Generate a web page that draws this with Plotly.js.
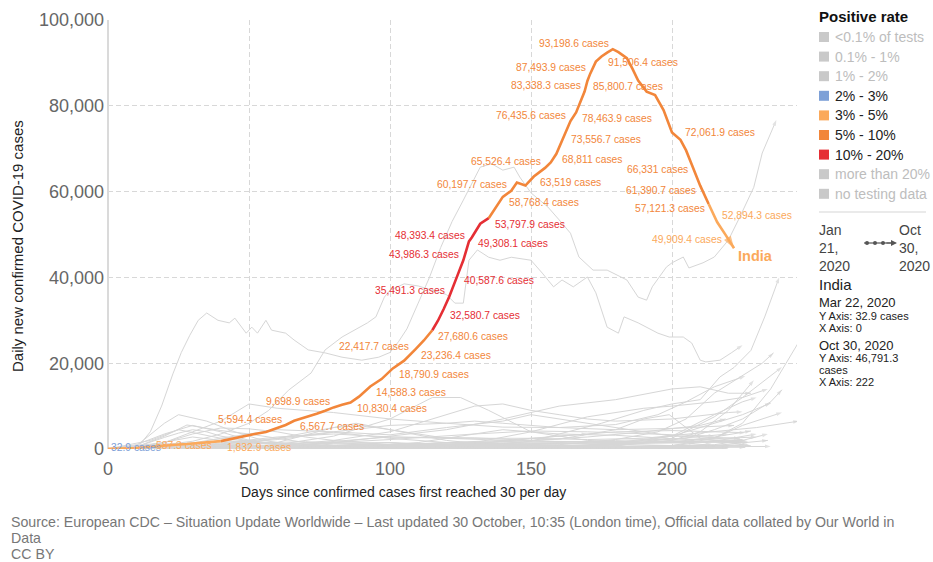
<!DOCTYPE html>
<html><head><meta charset="utf-8">
<script src="https://cdn.plot.ly/plotly-3.0.1.min.js"></script>
<style>body{margin:0;background:#fff}#chart{width:933px;height:562px}</style>
</head><body><div id="chart"></div>
<script>
// ---------------- India (highlighted series) ----------------
const indiaDays  = [0,3,6,10,13,16,20,24,28,32,36,40,44,48,52,56,60,63,66,70,74,77,80,83,86,89,93,97,101,105,108,109,112,115,117,119,121,124,126,128,129,132,135,137,140,143,145,148,151,155,157,159,162,164,166,169,170,171,173,175,177,179,181,184,186,188,191,194,197,200,203,205,207,210,213,216,219,222];
const indiaCases = [32.9,70,110,230,400,587.3,850,1000,1150,1400,1600,1832.9,2400,3100,3500,3950,4900,5594.4,6567.7,7300,8200,8900,9698.9,10300,10830.4,12200,14588.3,16300,18790.9,20600,22417.7,23236.4,25300,27680.6,29900,32580.7,35491.3,40587.6,43986.3,48393.4,49308.1,52500,53797.9,55900,58768.4,60197.7,62100,61400,63519,65526.4,66800,68811,73556.7,76435.6,78463.9,83338.3,85800.7,87493.9,90300,91506.4,92400,93198.6,92500,91100,88600,85900,83300,82500,79000,73800,72061.9,69600,66331,61390.7,57121.3,52894.3,49909.4,46791.3];
// positive-rate band of each India point
const indiaRate  = ['2-3','3-5','3-5','3-5','3-5','3-5','3-5','3-5','3-5','3-5','3-5','3-5','5-10','5-10','5-10','5-10','5-10','5-10','5-10','5-10','5-10','5-10','5-10','5-10','5-10','5-10','5-10','5-10','5-10','5-10','5-10','5-10','5-10','5-10','10-20','10-20','10-20','10-20','10-20','10-20','10-20','10-20','10-20','5-10','5-10','5-10','5-10','5-10','5-10','5-10','5-10','5-10','5-10','5-10','5-10','5-10','5-10','5-10','5-10','5-10','5-10','5-10','5-10','5-10','5-10','5-10','5-10','5-10','5-10','5-10','5-10','5-10','5-10','5-10','5-10','3-5','3-5','3-5'];
// labelled India points
const labelDays  = [0,16,40,63,66,80,86,93,101,108,109,115,119,121,124,126,128,129,135,140,143,151,155,159,162,164,166,169,170,171,175,179,203,207,210,213,216,219];
const labelCases = [32.9,587.3,1832.9,5594.4,6567.7,9698.9,10830.4,14588.3,18790.9,22417.7,23236.4,27680.6,32580.7,35491.3,40587.6,43986.3,48393.4,49308.1,53797.9,58768.4,60197.7,63519,65526.4,68811,73556.7,76435.6,78463.9,83338.3,85800.7,87493.9,91506.4,93198.6,72061.9,66331,61390.7,57121.3,52894.3,49909.4];
// label placement (style): tl = above-left, br = below-right, r = right, tr = above-right, bl = below-left
const labelPlace = ['r','r','br','tl','br','tl','br','br','br','tl','br','br','br','tl','br','tl','tl','br','br','br','tl','br','tl','br','br','tl','br','tl','br','tl','br','tl','tr','bl','bl','bl','tr','bl'];

// ---------------- other countries (grey) ----------------
const usaDays = [0,5,8,11,15,19,23,26,29,32,35,39,43,45,49,51,53,56,58,63,66,71,77,83,90,96,100,103,106,110,114,118,122,126,129,132,136,140,144,146,150,156,160,164,167,172,177,179,184,188,191,193,198,200,204,206,211,215,220,224,229,232,237];
const usaCases = [30,100,300,800,4000,10000,17500,22500,26500,30000,31700,30000,29400,30500,27000,28400,27000,30000,27700,27000,25400,23100,22400,21400,20700,21400,22500,25000,28000,34000,40000,47000,53000,58000,62000,65700,66500,65000,65700,63400,59700,56400,53400,50300,44750,41700,41700,41000,39400,35400,34700,37800,42400,43400,44750,42200,43400,44750,48700,54000,61000,69000,76700];
const brazilDays = [0,10,20,30,40,50,57,64,72,77,83,92,95,98,100,105,110,115,120,123,126,128,131,135,139,143,150,154,158,161,165,170,173,175,177,181,183,188,195,199,204,207,210,212,217,221,225];
const brazilCases = [30,300,1000,1800,3500,6000,9000,13700,17700,23100,26100,29400,30800,35400,37000,38500,38000,37000,36000,34000,34000,44000,46400,44700,44000,44700,44000,41000,37800,39400,37800,40100,36400,32400,28400,27000,30800,29400,27000,26100,26100,24700,20700,20300,20700,22400,24200];
const franceDays = [0,10,20,25,30,35,40,50,60,70,90,110,130,150,160,175,190,200,210,217,222,228,233,238];
const franceCases = [30,500,2700,3700,4500,4000,3000,1900,1000,400,300,400,800,1800,3500,6000,9000,10500,11500,16800,19000,23000,31000,40000];
const italyDays = [0,10,20,28,40,50,60,70,80,100,120,140,160,180,200,215,225,235,245,249];
const italyCases = [30,500,3000,5600,4300,3500,2500,1500,900,300,250,250,350,1200,1500,2500,6000,14000,25000,28000];
const spainDays = [0,10,20,25,35,45,55,70,90,110,130,150,170,190,200,215,225,235,239];
const spainCases = [30,700,6000,8000,6500,4000,2000,600,300,400,1500,4000,7500,9500,10000,11000,12000,17000,19100];
const ukDays = [0,10,20,30,40,50,60,70,80,100,120,140,160,180,195,205,215,225,232,236];
const ukCases = [30,300,1500,3500,4900,4700,4000,2800,2000,1000,600,700,1000,2200,4000,7000,13000,17000,20000,22400];
const germanyDays = [0,10,20,30,40,50,60,70,90,110,130,150,170,190,205,215,225,235,239];
const germanyCases = [30,1000,3500,5500,4000,2000,1200,800,450,400,600,1200,1400,1900,2500,4500,7000,11000,13800];
const russiaDays = [0,20,30,40,50,60,80,100,120,140,160,180,195,205,215,226];
const russiaCases = [30,1500,4000,6500,10500,9500,8500,7000,6000,5100,5000,5700,8000,11000,14500,17000];
const argentinaDays = [0,30,60,80,100,120,140,160,180,200,210,220,228];
const argentinaCases = [30,100,600,1500,3000,4500,7000,10000,11500,14000,14500,13000,13000];
const colombiaDays = [0,40,60,80,100,120,130,140,150,160,170,180,200,220,225];
const colombiaCases = [30,300,800,2000,4000,8000,10000,10500,9000,8000,7000,6500,7000,8500,8700];
const mexicoDays = [0,20,40,60,80,100,120,130,140,160,180,200,222];
const mexicoCases = [30,300,1200,2500,4000,5500,6000,6500,6000,5000,4500,4800,5500];
const peruDays = [0,20,40,60,80,100,120,140,150,160,180,200,224];
const peruCases = [30,300,2500,4500,4000,3300,5000,6500,8000,7000,5000,3000,2500];
const southAfricaDays = [0,40,60,80,100,115,125,135,150,170,190,210,227];
const southAfricaCases = [30,200,1000,3000,7000,12000,12000,9000,4000,2000,1500,1700,1800];
const chileDays = [0,40,60,80,90,100,120,150,180,227];
const chileCases = [30,500,2500,5000,5500,4500,2500,1800,1700,1500];
const iranDays = [0,15,30,40,60,75,100,120,150,170,190,210,230,245];
const iranCases = [30,1000,2800,2000,1200,1500,2800,2500,2500,2200,2500,3800,5000,6500];
const belgiumDays = [0,20,30,40,60,80,120,140,160,180,200,215,225,234];
const belgiumCases = [30,1200,1400,1000,400,100,300,600,400,700,2500,7500,12000,14000];
const netherlandsDays = [0,20,30,40,60,80,120,140,160,180,200,215,225,235];
const netherlandsCases = [30,900,1100,900,300,150,100,500,500,1100,3000,6000,8000,10700];
const polandDays = [0,30,60,90,120,150,180,200,210,220,229];
const polandCases = [30,350,350,350,500,600,800,2000,4000,9000,16000];
const czechiaDays = [0,20,40,100,130,160,180,200,215,225,230];
const czechiaCases = [30,250,100,100,200,400,1500,3000,8000,11000,12000];
const ukraineDays = [0,30,60,90,120,150,170,190,210,219];
const ukraineCases = [30,400,500,800,1000,2000,2800,4000,5500,7000];
const pakistanDays = [0,40,60,80,88,100,120,140,160,190,227];
const pakistanCases = [30,600,1500,5000,6000,4500,2000,700,500,600,900];
const bangladeshDays = [0,30,60,80,100,130,160,190,208];
const bangladeshCases = [30,700,2800,3500,2800,2600,1700,1400,1400];
const indonesiaDays = [0,40,80,100,120,140,160,180,200,226];
const indonesiaCases = [30,350,800,1000,1500,2000,3000,4000,4300,3800];
const philippinesDays = [0,40,80,110,130,140,160,180,200,226];
const philippinesCases = [30,200,400,1500,3500,4500,3500,3200,2400,1900];
const canadaDays = [0,25,40,60,80,100,130,160,180,200,215,230];
const canadaCases = [30,1200,1700,1100,400,300,400,500,1100,2000,2400,2800];
const turkeyDays = [0,15,25,40,60,80,100,130,150,170,190,210,225];
const turkeyCases = [30,2000,4500,2500,1100,1200,1000,1200,1600,1700,1600,1800,2200];
const saudiDays = [0,40,60,80,100,120,150,180,226];
const saudiCases = [30,1100,2200,3900,2500,1500,600,400,400];
const iraqDays = [0,60,80,100,130,150,170,190,215];
const iraqCases = [30,100,1500,2200,3500,4200,4000,3500,3000];
const israelDays = [0,20,40,70,100,120,140,160,180,190,199,210,228];
const israelCases = [30,500,200,50,700,1500,1700,2300,4500,7000,8000,2500,700];
const swedenDays = [0,20,40,60,80,100,120,140,160,180,200,215,234];
const swedenCases = [30,400,600,650,700,1000,700,250,200,200,500,800,2000];
const portugalDays = [0,20,40,60,80,100,120,140,160,180,200,215,230];
const portugalCases = [30,700,500,250,300,350,300,200,200,600,800,1800,3500];
const switzerlandDays = [0,15,25,40,60,80,100,120,140,160,180,200,215,225,239];
const switzerlandCases = [30,600,1100,400,50,20,80,120,180,250,400,800,2500,5500,8500];
const austriaDays = [0,15,25,40,60,100,140,160,180,200,215,225,234];
const austriaCases = [30,500,700,200,50,60,100,250,400,800,1000,2000,3500];
const romaniaDays = [0,30,60,90,120,140,160,180,200,215,228];
const romaniaCases = [30,300,250,300,900,1200,1300,1300,1600,2800,4200];
const ecuadorDays = [0,20,40,60,80,100,120,140,160,180,200,226];
const ecuadorCases = [30,300,500,700,400,300,1200,700,900,1100,800,900];
const boliviaDays = [0,40,60,80,100,120,130,150,170,190,210];
const boliviaCases = [30,100,300,800,1100,1500,1500,1000,600,300,200];
const egyptDays = [0,40,60,80,100,120,140,160,190,215];
const egyptCases = [30,300,600,1400,1500,800,200,150,120,150];
const moroccoDays = [0,40,80,100,120,140,160,180,200,220];
const moroccoCases = [30,100,100,300,700,1300,1500,2000,2300,3500];
const kazakhstanDays = [0,40,60,80,100,120,140,160,190,220];
const kazakhstanCases = [30,200,250,800,1500,800,100,50,60,150];
const japanDays = [0,20,35,50,70,100,120,140,160,180,200,235];
const japanCases = [30,200,600,200,30,60,300,1200,800,500,500,600];
const nepalDays = [0,40,60,80,100,120,140,160,170];
const nepalCases = [30,300,200,400,700,1000,1800,3000,3500];
const dominicanDays = [0,40,70,100,120,140,160,190,220];
const dominicanCases = [30,200,300,400,900,1100,800,400,400];
const panamaDays = [0,40,70,100,120,140,160,190,220];
const panamaCases = [30,100,200,700,1000,1000,800,600,650];
const belarusDays = [0,20,40,60,80,100,130,160,190,215];
const belarusCases = [30,600,900,700,500,200,150,150,300,800];
const kuwaitDays = [0,40,60,80,100,130,160,190,215];
const kuwaitCases = [30,500,800,700,600,600,600,650,600];
const qatarDays = [0,30,50,70,90,120,150,180,220];
const qatarCases = [30,500,1400,1700,1200,400,250,220,230];
const greeceDays = [0,60,120,150,170,190,200,214];
const greeceCases = [30,10,30,200,250,300,500,1200];

// ---------------- legend / text ----------------
const legendTitle = 'Positive rate';
const legendLabels = ['<0.1% of tests','0.1% - 1%','1% - 2%','2% - 3%','3% - 5%','5% - 10%','10% - 20%','more than 20%','no testing data'];
const legendKeys = [null,null,null,'2-3','3-5','5-10','10-20',null,null];
const xTickVals = [0,50,100,150,200];
const yTickVals = [0,20000,40000,60000,80000,100000];
const footerLines = ['Source: European CDC – Situation Update Worldwide – Last updated 30 October, 10:35 (London time), Official data collated by Our World in','Data','CC BY'];

// ================= drawing =================
const FONT = 'Liberation Sans, Arial, sans-serif';
const rateColor = {'2-3':'#7DA0D7','3-5':'#FBA95B','5-10':'#F2863A','10-20':'#E52E34'};
const GREY = 'rgb(214,214,214)';
const fmt = v => v.toLocaleString('en-US',{maximumFractionDigits:1});

// plot-area pixel helpers for placing layout items outside the axes
const L=108, R=797, T=20, B=449;
const PX = px => (px-L)/(R-L);
const PY = py => (B-py)/(B-T);

const traces = [];
const greySeries = [
 [usaDays,usaCases],[brazilDays,brazilCases],[franceDays,franceCases],[italyDays,italyCases],
 [spainDays,spainCases],[ukDays,ukCases],[germanyDays,germanyCases],[russiaDays,russiaCases],
 [argentinaDays,argentinaCases],[colombiaDays,colombiaCases],[mexicoDays,mexicoCases],[peruDays,peruCases],
 [southAfricaDays,southAfricaCases],[chileDays,chileCases],[iranDays,iranCases],[belgiumDays,belgiumCases],
 [netherlandsDays,netherlandsCases],[polandDays,polandCases],[czechiaDays,czechiaCases],[ukraineDays,ukraineCases],
 [pakistanDays,pakistanCases],[bangladeshDays,bangladeshCases],[indonesiaDays,indonesiaCases],[philippinesDays,philippinesCases],
 [canadaDays,canadaCases],[turkeyDays,turkeyCases],[saudiDays,saudiCases],[iraqDays,iraqCases],[israelDays,israelCases],
 [swedenDays,swedenCases],[portugalDays,portugalCases],[switzerlandDays,switzerlandCases],[austriaDays,austriaCases],
 [romaniaDays,romaniaCases],[ecuadorDays,ecuadorCases],[boliviaDays,boliviaCases],[egyptDays,egyptCases],
 [moroccoDays,moroccoCases],[kazakhstanDays,kazakhstanCases],[japanDays,japanCases],[nepalDays,nepalCases],
 [dominicanDays,dominicanCases],[panamaDays,panamaCases],[belarusDays,belarusCases],[kuwaitDays,kuwaitCases],
 [qatarDays,qatarCases],[greeceDays,greeceCases]
];
greySeries.forEach(([d,c])=>{
  traces.push({x:d,y:c,type:'scatter',mode:'lines+markers',
    line:{color:GREY,width:1},
    marker:{symbol:'arrow',angleref:'previous',color:GREY,size:d.map((v,i)=>i===d.length-1?6:0),line:{width:0}},
    hoverinfo:'skip',showlegend:false});
});

// India coloured segments
let segs=[], cur=null;
for(let i=1;i<indiaDays.length;i++){
  const c=indiaRate[i];
  if(!cur||cur.c!==c){cur={c:c,x:[indiaDays[i-1]],y:[indiaCases[i-1]]};segs.push(cur);}
  cur.x.push(indiaDays[i]);cur.y.push(indiaCases[i]);
}
segs.forEach(s=>traces.push({x:s.x,y:s.y,type:'scatter',mode:'lines',
  line:{color:rateColor[s.c],width:2.6,shape:'linear'},hoverinfo:'skip',showlegend:false}));
// arrow head at the end of India
const n=indiaDays.length;
traces.push({x:indiaDays.slice(n-2),y:indiaCases.slice(n-2),type:'scatter',mode:'markers',
  marker:{symbol:'arrow',angleref:'previous',size:[0,13],color:rateColor[indiaRate[n-1]],line:{width:0}},
  hoverinfo:'skip',showlegend:false});

const annotations=[];
const place = {
  tl:{xanchor:'right',xshift:-2,yshift:6},
  br:{xanchor:'left',xshift:4,yshift:-6},
  r:{xanchor:'left',xshift:1,yshift:1},
  tr:{xanchor:'left',xshift:3,yshift:7},
  bl:{xanchor:'right',xshift:-2,yshift:-5}
};
labelDays.forEach((d,i)=>{
  const idx=indiaDays.indexOf(d);
  const p=place[labelPlace[i]];
  annotations.push({x:d,y:labelCases[i],xref:'x',yref:'y',text:fmt(labelCases[i])+' cases',
    showarrow:false,xanchor:p.xanchor,yanchor:'middle',xshift:p.xshift,yshift:p.yshift,
    font:{family:FONT,size:10.3,color:rateColor[indiaRate[idx]]}});
});
annotations.push({x:indiaDays[n-1],y:indiaCases[n-1],xref:'x',yref:'y',text:'<b>India</b>',showarrow:false,
  xanchor:'left',yanchor:'middle',xshift:2,yshift:-8,font:{family:FONT,size:14.5,color:rateColor[indiaRate[n-1]]}});

// axis titles (placed like the reference)
annotations.push({xref:'paper',yref:'paper',x:PX(403),y:PY(492),text:'Days since confirmed cases first reached 30 per day',
  showarrow:false,xanchor:'center',yanchor:'middle',font:{family:FONT,size:14,color:'#222'}});
annotations.push({xref:'paper',yref:'paper',x:PX(18),y:PY(246),text:'Daily new confirmed COVID-19 cases',textangle:-90,
  showarrow:false,xanchor:'center',yanchor:'middle',font:{family:FONT,size:15,color:'#222'}});

// legend
const shapes=[];
const LX=819;
annotations.push({xref:'paper',yref:'paper',x:PX(LX-2),y:PY(17),text:'<b>'+legendTitle+'</b>',showarrow:false,
  xanchor:'left',yanchor:'middle',font:{family:FONT,size:15,color:'#111'}});
legendLabels.forEach((t,i)=>{
  const yc=37+i*19.6;
  const active=legendKeys[i]!==null;
  shapes.push({type:'rect',xref:'paper',yref:'paper',x0:PX(LX),x1:PX(LX+10),y0:PY(yc+5),y1:PY(yc-5),
    fillcolor:active?rateColor[legendKeys[i]]:'#C9C9C9',line:{width:0}});
  annotations.push({xref:'paper',yref:'paper',x:PX(LX+14),y:PY(yc),text:t.replace('<','&lt;'),showarrow:false,
    xanchor:'left',yanchor:'middle',font:{family:FONT,size:14,color:active?'#222':'#BDBDBD'}});
});
shapes.push({type:'line',xref:'paper',yref:'paper',x0:PX(LX),x1:PX(926),y0:PY(212),y1:PY(212),line:{color:'#D5D5D5',width:1}});
annotations.push({xref:'paper',yref:'paper',x:PX(LX-2),y:PY(220),text:'Jan<br>21,<br>2020',showarrow:false,align:'left',
  xanchor:'left',yanchor:'top',font:{family:FONT,size:14,color:'#444'}});
annotations.push({xref:'paper',yref:'paper',x:PX(897),y:PY(220),text:'Oct<br>30,<br>2020',showarrow:false,align:'left',
  xanchor:'left',yanchor:'top',font:{family:FONT,size:14,color:'#444'}});
shapes.push({type:'line',xref:'paper',yref:'paper',x0:PX(864),x1:PX(892),y0:PY(243),y1:PY(243),line:{color:'#555',width:1.2}});
[867,875,883].forEach(cx=>shapes.push({type:'circle',xref:'paper',yref:'paper',x0:PX(cx-2),x1:PX(cx+2),y0:PY(245),y1:PY(241),fillcolor:'#555',line:{width:0}}));
annotations.push({xref:'paper',yref:'paper',x:PX(897),y:PY(243),axref:'pixel',ayref:'pixel',ax:-12,ay:0,text:'',showarrow:true,
  arrowhead:2,arrowsize:1,arrowwidth:1.2,arrowcolor:'#555'});

const tipLines=[
  {t:'India',y:284,s:15},
  {t:'Mar 22, 2020',y:302,s:13},
  {t:'Y Axis: '+fmt(indiaCases[0])+' cases',y:316,s:11},
  {t:'X Axis: '+indiaDays[0],y:328,s:11},
  {t:'Oct 30, 2020',y:345,s:13},
  {t:'Y Axis: '+fmt(indiaCases[n-1]),y:358,s:11},
  {t:'cases',y:370,s:11},
  {t:'X Axis: '+indiaDays[n-1],y:382,s:11}
];
tipLines.forEach(o=>annotations.push({xref:'paper',yref:'paper',x:PX(LX-2),y:PY(o.y),text:o.t,showarrow:false,
  xanchor:'left',yanchor:'middle',font:{family:FONT,size:o.s,color:'#222'}}));

// footer (one annotation per line)
footerLines.forEach((t,i)=>annotations.push({xref:'paper',yref:'paper',x:PX(9),y:PY(522+i*16),text:t,
  showarrow:false,align:'left',xanchor:'left',yanchor:'middle',font:{family:FONT,size:14.2,color:'#777'}}));

const layout={
  width:933,height:562,
  margin:{l:L,r:933-R,t:T,b:562-B,pad:0},
  paper_bgcolor:'#fff',plot_bgcolor:'#fff',
  showlegend:false,
  font:{family:FONT},
  xaxis:{range:[0,(R-L)/2.82],tickvals:xTickVals,ticks:'',showline:false,ticklabelstandoff:7,
    showgrid:true,gridcolor:'#D8D8D8',griddash:'5px,3px',gridwidth:1,
    zeroline:true,zerolinecolor:'#DADADA',zerolinewidth:1.5,
    tickfont:{family:FONT,size:18,color:'#666'}},
  yaxis:{range:[0,100000],tickvals:yTickVals,tickformat:',d',ticks:'',showline:false,ticklabelstandoff:3,
    showgrid:true,gridcolor:'#D8D8D8',griddash:'5px,3px',gridwidth:1,zeroline:false,
    tickfont:{family:FONT,size:18,color:'#666'}},
  annotations:annotations,shapes:shapes
};
Plotly.newPlot('chart',traces,layout,{displayModeBar:false,staticPlot:true});
</script></body></html>
